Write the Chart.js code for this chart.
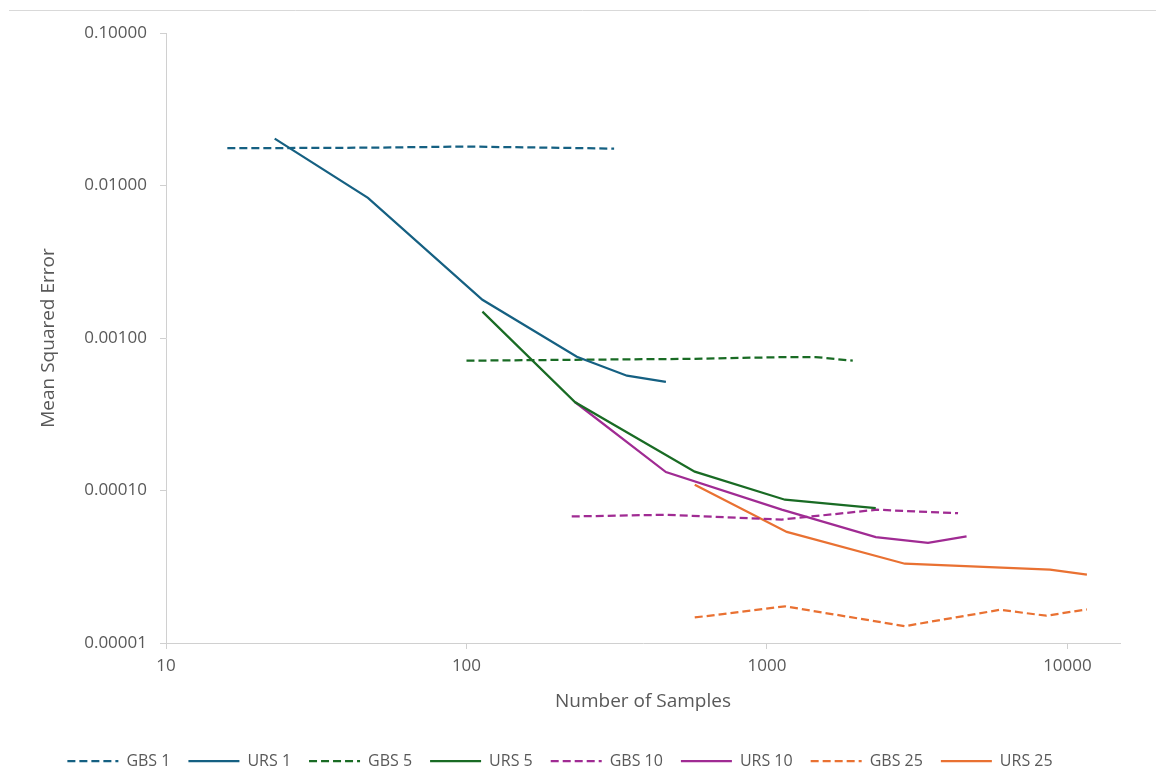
<!DOCTYPE html>
<html lang="en">
<head>
    <meta charset="UTF-8">
    <title>Mean Squared Error vs Number of Samples</title>
    <script src="https://cdn.jsdelivr.net/npm/chart.js"></script>
<style>
    html, body{margin: 0; padding: 0; background: #fff;}
    #wrap{width: 1156px; height: 770px; position: relative;}
</style>
</head>
<body>
    <div id="wrap">
        <canvas id="myChart" width="1156" height="770"></canvas>
    </div>
    <script>
        // series data
        const gbs1X = [16, 47, 100, 233, 310];
        const gbs1Y = [0.01755, 0.0177, 0.0180, 0.0176, 0.01745];
        const urs1X = [23, 47, 113, 233, 342, 461];
        const urs1Y = [0.0203, 0.0083, 0.00178, 0.000753, 0.000566, 0.000516];
        const gbs5X = [100, 230, 575, 1150, 1450, 1930];
        const gbs5Y = [0.00071, 0.00072, 0.00073, 0.00075, 0.00075, 0.00071];
        const urs5X = [113, 230, 575, 1148, 2302];
        const urs5Y = [0.00149, 0.000379, 0.000133, 0.000087, 0.0000767];
        const gbs10X = [224, 461, 1120, 2323, 4325];
        const gbs10Y = [0.0000676, 0.0000693, 0.0000645, 0.0000748, 0.000071];
        const urs10X = [230, 461, 1120, 2302, 3436, 4616];
        const urs10Y = [0.000379, 0.000132, 0.000075, 0.0000495, 0.0000453, 0.00005];
        const gbs25X = [575, 1148, 2876, 5960, 8500, 11610];
        const gbs25Y = [0.0000147, 0.0000174, 0.0000129, 0.0000165, 0.0000151, 0.0000166];
        const urs25X = [575, 1164, 2876, 8750, 11610];
        const urs25Y = [0.000109, 0.0000535, 0.0000331, 0.0000303, 0.0000281];

        const xTicks = [10, 100, 1000, 10000];
        const yTicks = [0.00001, 0.0001, 0.001, 0.01, 0.1];

        const blue = '#156082', green = '#196B24', purple = '#A02B93', orange = '#E97132';
        const dash = [8, 4];

        function pts(xs, ys){
            return xs.map((x, i) => ({x: x, y: ys[i]}));
        }
        function series(label, xs, ys, color, dashed){
            return {
                label: label,
                data: pts(xs, ys),
                borderColor: color,
                backgroundColor: color,
                borderWidth: 2.25,
                borderDash: dashed ? dash : [],
                pointRadius: 0,
                tension: 0,
                fill: false
            };
        }

        // top frame line
        const frameLine = {
            id: 'frameLine',
            beforeDraw(chart){
                const c = chart.ctx;
                c.save();
                c.strokeStyle = '#d9d9d9';
                c.lineWidth = 1;
                c.beginPath();
                c.moveTo(9, 10.5);
                c.lineTo(1156, 10.5);
                c.stroke();
                c.restore();
            }
        };

        const font = "'Open Sans', sans-serif";
        const padBottom = -9;
        const ctx = document.getElementById('myChart');
        new Chart(ctx, {
            type: 'line',
            data: {
                datasets: [
                    series('GBS 1', gbs1X, gbs1Y, blue, true),
                    series('URS 1', urs1X, urs1Y, blue, false),
                    series('GBS 5', gbs5X, gbs5Y, green, true),
                    series('URS 5', urs5X, urs5Y, green, false),
                    series('GBS 10', gbs10X, gbs10Y, purple, true),
                    series('URS 10', urs10X, urs10Y, purple, false),
                    series('GBS 25', gbs25X, gbs25Y, orange, true),
                    series('URS 25', urs25X, urs25Y, orange, false)
                ]
            },
            plugins: [frameLine],
            options: {
                responsive: false,
                animation: false,
                layout: {padding: {top: 33, right: 36, left: 0, bottom: padBottom}},
                plugins: {
                    tooltip: {enabled: false},
                    legend: {
                        position: 'bottom',
                        labels: {
                            usePointStyle: true,
                            pointStyle: 'line',
                            pointStyleWidth: 51,
                            padding: 18,
                            color: '#595959',
                            font: {family: font, size: 16},
                            // keep the dashes of each series in the legend line
                            generateLabels: chart => {
                                const items = Chart.defaults.plugins.legend.labels.generateLabels(chart);
                                items.forEach(it => {
                                    const ds = chart.data.datasets[it.datasetIndex];
                                    it.lineDash = ds.borderDash;
                                    it.lineWidth = ds.borderWidth;
                                    it.strokeStyle = ds.borderColor;
                                });
                                return items;
                            }
                        }
                    }
                },
                scales: {
                    x: {
                        type: 'logarithmic',
                        min: 10,
                        max: 14960,
                        afterBuildTicks: s => { s.ticks = xTicks.map(v => ({value: v})); },
                        afterFit: s => { s.height = 770 - padBottom - 643 - s.chart.legend.height; },
                        ticks: {
                            color: '#595959',
                            font: {family: font, size: 17},
                            padding: 7,
                            maxRotation: 0,
                            callback: v => String(v)
                        },
                        grid: {drawOnChartArea: false, drawTicks: true, tickLength: 6, color: '#d0d0d0'},
                        border: {color: '#d0d0d0'},
                        title: {
                            display: true,
                            text: 'Number of Samples',
                            color: '#595959',
                            font: {family: font, size: 19},
                            padding: {top: 4, bottom: 22}
                        }
                    },
                    y: {
                        type: 'logarithmic',
                        min: 0.00001,
                        max: 0.1,
                        afterBuildTicks: s => { s.ticks = yTicks.map(v => ({value: v})); },
                        afterFit: s => { s.width = 166; },
                        ticks: {
                            color: '#595959',
                            font: {family: font, size: 17},
                            padding: 13,
                            callback: v => Number(v).toFixed(5)
                        },
                        grid: {drawOnChartArea: false, drawTicks: true, tickLength: 6, color: '#d0d0d0'},
                        border: {color: '#d0d0d0'},
                        title: {
                            display: true,
                            text: 'Mean Squared Error',
                            color: '#595959',
                            font: {family: font, size: 19},
                            padding: {top: 37, bottom: 0}
                        }
                    }
                }
            }
        });
    </script>
</body>
</html>
